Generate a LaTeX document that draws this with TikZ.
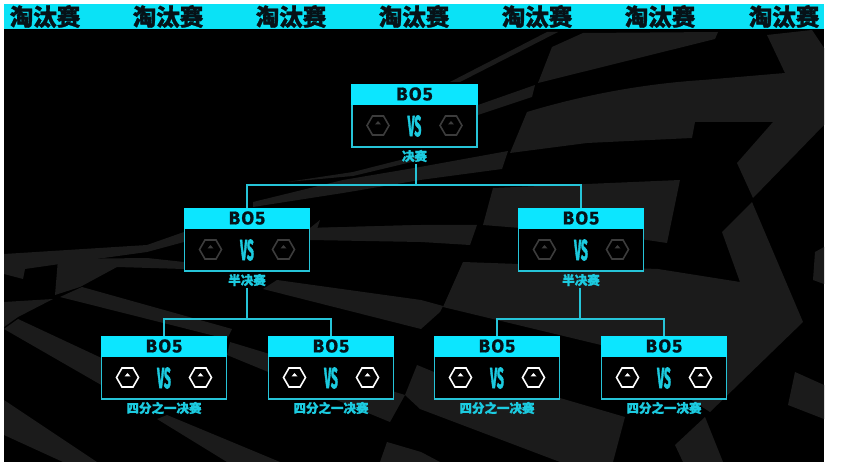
\documentclass[tikz,border=0pt]{standalone}
\usepackage{fontspec}
\usetikzlibrary{shapes.geometric,calc}
\newfontfamily\cjkfont[FakeBold=1.2]{Noto Sans CJK SC}
\newfontfamily\latfont[LetterSpace=6,FakeBold=0.6]{Fira Sans}
\newfontfamily\vsfont[FakeBold=2.5]{Fira Sans}
\definecolor{bandcyan}{HTML}{0AE2F6}
\definecolor{headcyan}{HTML}{0CE6FF}
\definecolor{linecyan}{HTML}{26C4D8}
\definecolor{labelcyan}{HTML}{1CCBE0}
\definecolor{inkdark}{HTML}{061218}
\definecolor{bggray}{HTML}{1B1B1B}
\definecolor{hexdim}{HTML}{3C3C3C}
\tikzset{
  x=1pt,y=-1pt,
  bgshape/.style={fill=bggray,draw=none},
  bandtitle/.style={inkdark,font=\cjkfont\bfseries\fontsize{23.5}{24}\selectfont,inner sep=0pt},
  bodybox/.style={draw=linecyan,line width=1.8pt,fill=black,minimum width=125pt,minimum height=62pt,inner sep=0pt,anchor=north},
  headbox/.style={fill=headcyan,minimum width=126.5pt,minimum height=20.5pt,inner sep=0pt,anchor=north},
  headtext/.style={inkdark,font=\latfont\bfseries\fontsize{18.5}{19}\selectfont,inner sep=0pt},
  vstext/.style={labelcyan,font=\vsfont\bfseries\fontsize{29}{29}\selectfont,inner sep=0pt},
  hexnode/.style={regular polygon,regular polygon sides=6,minimum size=22pt,inner sep=0pt,line width=1.6pt},
  lbltext/.style={labelcyan,font=\cjkfont\bfseries\fontsize{12.5}{13}\selectfont,inner sep=0pt},
  conn/.style={draw=linecyan,line width=2pt},
}
% #1 name, #2 centre x, #3 top y, #4 hexagon colour, #5 label
\newcommand{\matchbox}[5]{%
  \node[bodybox] (#1body) at (#2,#3) {};
  \node[headbox] (#1) at (#2,#3) {};
  \node[headtext] (#1bo) at (#2,#3+10) {BO5};
  \node[vstext] (#1vs) at (#2,#3+42) {\scalebox{.42}[1]{VS}};
  \node[hexnode,draw=#4] (#1ha) at (#2-36.5,#3+41.5) {};
  \node[hexnode,draw=#4] (#1hb) at (#2+36.5,#3+41.5) {};
  \fill[#4] (#2-36.5,#3+37) -- (#2-33.5,#3+40.5) -- (#2-39.5,#3+40.5) -- cycle;
  \fill[#4] (#2+36.5,#3+37) -- (#2+39.5,#3+40.5) -- (#2+33.5,#3+40.5) -- cycle;
  \node[lbltext] (#1lb) at (#2,#3+72) {#5};
}
\begin{document}
\begin{tikzpicture}
\useasboundingbox (0,0) rectangle (841,462);
\fill[white] (0,0) rectangle (841,462);
\fill[black] (4,4) rectangle (824,462);
\begin{scope}
\clip (4,29) rectangle (824,462);
% upper right
\fill[bgshape] (552,47) -- (583,33) -- (718,32) -- (715,39) -- (538,83) -- cycle;
\fill[bgshape] (460,82) -- (558,32) -- (547,32) -- (450,82) -- cycle;
\fill[bgshape] (478,105) -- (535,85) -- (532,97) -- (478,115) -- cycle;
\fill[bgshape] (527,112) .. controls (580,96) and (640,84) .. (703,80) -- (785,73) -- (767,35) -- (812,30) -- (824,48) -- (824,125) -- (753,198) -- (737,163) -- (773,122) -- (695,122) -- (692,138) -- (587,143) -- (510,153) -- cycle;
\fill[bgshape] (508,151) -- (502,169) -- (420,180) -- (343,193) -- (253,207) -- (253,202) -- (343,180) -- (420,167) -- cycle;
\fill[bgshape] (287,182) -- (353,172) -- (420,155) -- (420,160) -- (353,176) -- cycle;
% middle
\fill[bgshape] (493,188) -- (680,180) -- (667,243) -- (620,236) -- (483,225) -- cycle;
\fill[bgshape] (310,228) -- (421,225) -- (477,225) -- (470,245) -- (421,242) -- (310,240) -- cycle;
\fill[bgshape] (310,228) -- (320,220) -- (316,232) -- cycle;
% lower right blocks
\fill[bgshape] (463,262) -- (658,269) -- (740,282) -- (722,232) -- (752,202) -- (803,322) -- (710,412) -- (690,399) -- (601,345) -- (443,307) -- cycle;
\fill[bgshape] (417,365) -- (434,372) -- (560,398) -- (625,417) -- (613,462) -- (560,462) -- (420,409) -- (405,395) -- cycle;
% right fragments
\fill[bgshape] (795,372) -- (824,385) -- (824,419) -- (788,405) -- cycle;
\fill[bgshape] (815,252) -- (824,247) -- (824,284) -- (813,280) -- cycle;
\fill[bgshape] (675,445) -- (705,417) -- (723,462) -- (683,462) -- cycle;
% left fragments
\fill[bgshape] (4,400) -- (97,462) -- (63,462) -- (4,435) -- cycle;
\fill[bgshape] (157,419) -- (167,415) -- (280,462) -- (227,462) -- cycle;
\fill[bgshape] (4,329) -- (18,319) -- (110,362) -- (110,390) -- cycle;
\fill[bgshape] (82,287) -- (232,329) -- (227,339) -- (60,297) -- cycle;
\fill[bgshape] (230,342) -- (405,395) -- (390,422) -- (227,355) -- cycle;
\fill[bgshape] (4,302) -- (53,299) -- (18,317) -- (4,327) -- cycle;
\fill[bgshape] (58,259) -- (55,295) -- (80,287) -- (117,267) -- (184,269) -- (184,262) -- (147,258) -- cycle;
\fill[bgshape] (4,254) -- (147,245) -- (184,232) -- (184,242) -- (147,252) -- (60,264) -- (25,269) -- (23,279) -- (4,274) -- cycle;
\fill[bgshape] (387,442) -- (421,452) -- (440,462) -- (380,462) -- cycle;
\fill[bgshape] (263,289) -- (277,280) -- (421,300) -- (443,306) -- (440,312) -- (421,329) -- cycle;
\fill[bgshape] (313,232) -- (421,236) -- (421,225) -- (313,228) -- cycle;
\end{scope}
% title band
\fill[bandcyan] (4,4) rectangle (824,29);
\foreach \tname/\tx in {ta/45,tb/168,tc/291,td/414,te/537,tf/660,tg/784}{
  \node[bandtitle] (\tname) at (\tx,16.5) {淘汰赛};
}
% match boxes
\matchbox{fin}{414.5}{84}{hexdim}{决赛}
\matchbox{sl}{247}{208}{hexdim}{半决赛}
\matchbox{sr}{581}{208}{hexdim}{半决赛}
\matchbox{qa}{164}{336}{white}{四分之一决赛}
\matchbox{qb}{331}{336}{white}{四分之一决赛}
\matchbox{qc}{497}{336}{white}{四分之一决赛}
\matchbox{qd}{664}{336}{white}{四分之一决赛}
% connectors
\coordinate (ja) at (415.5,185);
\coordinate (jb) at (247,319.5);
\coordinate (jc) at (579.5,319.5);
\draw[conn] (ja |- finlb.south) ++(0,1.5) -- (ja);
\draw[conn] (sl.north) |- (ja);
\draw[conn] (sr.north) |- (ja);
\draw[conn] (jb |- sllb.south) ++(0,1.5) -- (jb);
\draw[conn] (qa.north) |- (jb);
\draw[conn] (qb.north) |- (jb);
\draw[conn] (jc |- srlb.south) ++(0,1.5) -- (jc);
\draw[conn] (qc.north) |- (jc);
\draw[conn] (qd.north) |- (jc);
\end{tikzpicture}
\end{document}
